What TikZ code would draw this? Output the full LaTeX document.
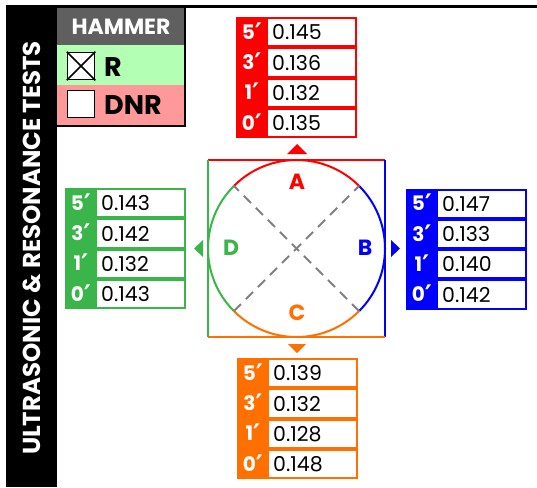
\documentclass[tikz,border=0pt]{standalone}
\usepackage{fontspec}
\setmainfont{Poppins}
\newfontfamily\primefont{DejaVu Sans}
\usetikzlibrary{calc}
\definecolor{cred}{RGB}{255,0,0}
\definecolor{cblue}{RGB}{0,0,255}
\definecolor{cgreen}{RGB}{57,181,74}
\definecolor{corange}{RGB}{255,112,0}
\definecolor{hgray}{RGB}{95,95,95}
\definecolor{lgreen}{RGB}{179,255,179}
\definecolor{lred}{RGB}{255,153,153}
\definecolor{dgray}{RGB}{128,128,128}
\tikzset{
  lbl/.style={text=white,font=\bfseries\fontsize{20}{20}\selectfont,inner sep=0pt},
  val/.style={text=black,font=\fontsize{20.5}{20}\selectfont,anchor=west,inner sep=0pt},
  edge/.style={line width=2pt},
  quad/.style={font=\bfseries\fontsize{22}{22}\selectfont,inner sep=0pt},
  cbox/.style={draw=black,line width=1.5pt,fill=white,minimum size=27pt,inner sep=0pt},
}
\newcommand\myprime{\raisebox{-3pt}{\primefont\bfseries\fontsize{27}{27}\selectfont ′}}
% #1 name, #2 color, #3 x0, #4 y0, #5..#8 values
\newcommand\datatable[8]{%
  \fill[#2] (#3,#4) rectangle ++(121,121);
  \foreach \i/\lab/\v in {0/5/#5,1/3/#6,2/1/#7,3/0/#8}{%
    \fill[white] (#3+32,#4+\i*30.25+2) rectangle ++(87,26.25);
    \node[lbl] (#1-l\i) at (#3+16,#4+\i*30.25+15.5) {\lab\myprime};
    \node[val] (#1-v\i) at (#3+36,#4+\i*30.25+15.5) {\v};
  }%
}
\begin{document}
\begin{tikzpicture}[x=1pt,y=-1pt]
\useasboundingbox (0,0) rectangle (537,487);
\fill[white] (0,0) rectangle (537,487);
% title bar
\fill[black] (6,6) rectangle (57,487);
\draw[black,line width=3pt] (6,7) -- (537,7);
\node[rotate=90,text=white,font=\bfseries\fontsize{24.5}{24.5}\selectfont,inner sep=0pt] (title) at (32,248) {ULTRASONIC \& RESONANCE TESTS};
% legend
\fill[hgray] (57,8) rectangle (185,45);
\fill[lgreen] (57,45) rectangle (185,85);
\fill[lred] (57,85) rectangle (185,126);
\draw[black,line width=2pt] (185,6) -- (185,126) -- (57,126);
\node[text=white,font=\bfseries\fontsize{22}{22}\selectfont,inner sep=0pt] (hammer) at (121,27) {HAMMER};
\node[cbox] (box1) at (81,66) {};
\draw[black,line width=1.5pt] (box1.north west) -- (box1.south east) (box1.south west) -- (box1.north east);
\node[font=\bfseries\fontsize{27}{27}\selectfont,anchor=west,inner sep=0pt] (rlab) at (104,67) {R};
\node[cbox] (box2) at (81,104) {};
\node[font=\bfseries\fontsize{27}{27}\selectfont,anchor=west,inner sep=0pt] (dnrlab) at (104,105) {DNR};
% tables
\datatable{ta}{cred}{236}{17}{0.145}{0.136}{0.132}{0.135}
\datatable{td}{cgreen}{65}{188}{0.143}{0.142}{0.132}{0.143}
\datatable{tb}{cblue}{406}{188.5}{0.147}{0.133}{0.140}{0.142}
\datatable{tc}{corange}{237}{358}{0.139}{0.132}{0.128}{0.148}
% square and circle
\coordinate (c) at (296.5,248.5);
\draw[edge,cred] (208,160) -- (385,160);
\draw[edge,cblue] (385,160) -- (385,337);
\draw[edge,corange] (208,337) -- (385,337);
\draw[edge,cgreen] (208,160) -- (208,337);
\draw[edge,cred] ([shift={(-45:88.5)}]c) arc[start angle=-45,end angle=-135,radius=88.5];
\draw[edge,cblue] ([shift={(45:88.5)}]c) arc[start angle=45,end angle=-45,radius=88.5];
\draw[edge,corange] ([shift={(45:88.5)}]c) arc[start angle=45,end angle=135,radius=88.5];
\draw[edge,cgreen] ([shift={(135:88.5)}]c) arc[start angle=135,end angle=225,radius=88.5];
\coordinate (p1) at ([shift={(45:88.5)}]c);
\coordinate (p2) at ([shift={(135:88.5)}]c);
\coordinate (p3) at ([shift={(225:88.5)}]c);
\coordinate (p4) at ([shift={(315:88.5)}]c);
\draw[edge,dgray,dash pattern=on 10pt off 7pt] (p1) -- (p3);
\draw[edge,dgray,dash pattern=on 10pt off 7pt] (p2) -- (p4);
\node[quad,text=cred] (qa) at (297,182) {A};
\node[quad,text=cblue] (qb) at (365,248) {B};
\node[quad,text=corange] (qc) at (297,313) {C};
\node[quad,text=cgreen] (qd) at (231,248) {D};
% markers
\fill[cred] (287,154) -- (307,154) -- (297,144) -- cycle;
\fill[corange] (288,344) -- (306,344) -- (297,353) -- cycle;
\fill[cgreen] (203,240) -- (203,257) -- (194,248.5) -- cycle;
\fill[cblue] (391,240) -- (391,257) -- (400,248.5) -- cycle;
\end{tikzpicture}
\end{document}
